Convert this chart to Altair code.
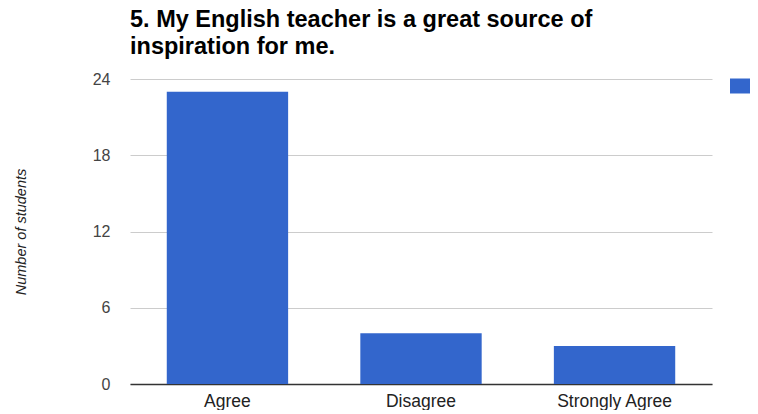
import altair as alt
import pandas as pd

categories = ["Agree", "Disagree", "Strongly Agree"]
counts = [23, 4, 3]
series_name = ["Number of students"] * 3
y_ticks = [0, 6, 12, 18, 24]

df = pd.DataFrame({"response": categories, "count": counts, "series": series_name})

chart = alt.Chart(df).mark_bar().encode(
    x=alt.X("response:N", sort=categories, title=None,
            scale=alt.Scale(paddingInner=0.373, paddingOuter=0.19),
            axis=alt.Axis(labelAngle=0, labelFontSize=17.5, labelColor="#222",
                          labelFont="Liberation Sans", labelPadding=8,
                          ticks=False, domainColor="#333", domainWidth=1.5)),
    y=alt.Y("count:Q", title="Number of students",
            scale=alt.Scale(domain=[0, 24]),
            axis=alt.Axis(values=y_ticks, labelFontSize=16, labelColor="#444",
                          labelFont="Liberation Sans", labelPadding=20,
                          ticks=False, domain=False, gridColor="#ccc",
                          titleFont="Liberation Sans", titleFontStyle="italic",
                          titleFontWeight="normal", titleFontSize=14.5,
                          titleColor="#222", titlePadding=64)),
    color=alt.Color("series:N", scale=alt.Scale(range=["#3366cc"]),
                    legend=alt.Legend(title=None, orient="none", legendX=600, legendY=-8,
                                      labelExpr="''", labelFontSize=1,
                                      symbolType="M-1,-0.5H1V0.5H-1Z", symbolSize=900,
                                      symbolStrokeWidth=0, symbolOpacity=1,
                                      padding=0)),
).properties(
    width=582,
    height=305,
    autosize=alt.AutoSizeParams(type="none"),
    padding={"left": 122, "top": 71, "right": 38, "bottom": 26},
    title=alt.TitleParams(
        text=["5. My English teacher is a great source of", "inspiration for me."],
        anchor="start", frame="group", font="Liberation Sans", fontSize=23.5,
        fontWeight="bold", color="#000", lineHeight=27, offset=13,
    ),
).configure_view(stroke=None)

chart.save("out.html", embed_options={"renderer": "svg", "actions": False})
